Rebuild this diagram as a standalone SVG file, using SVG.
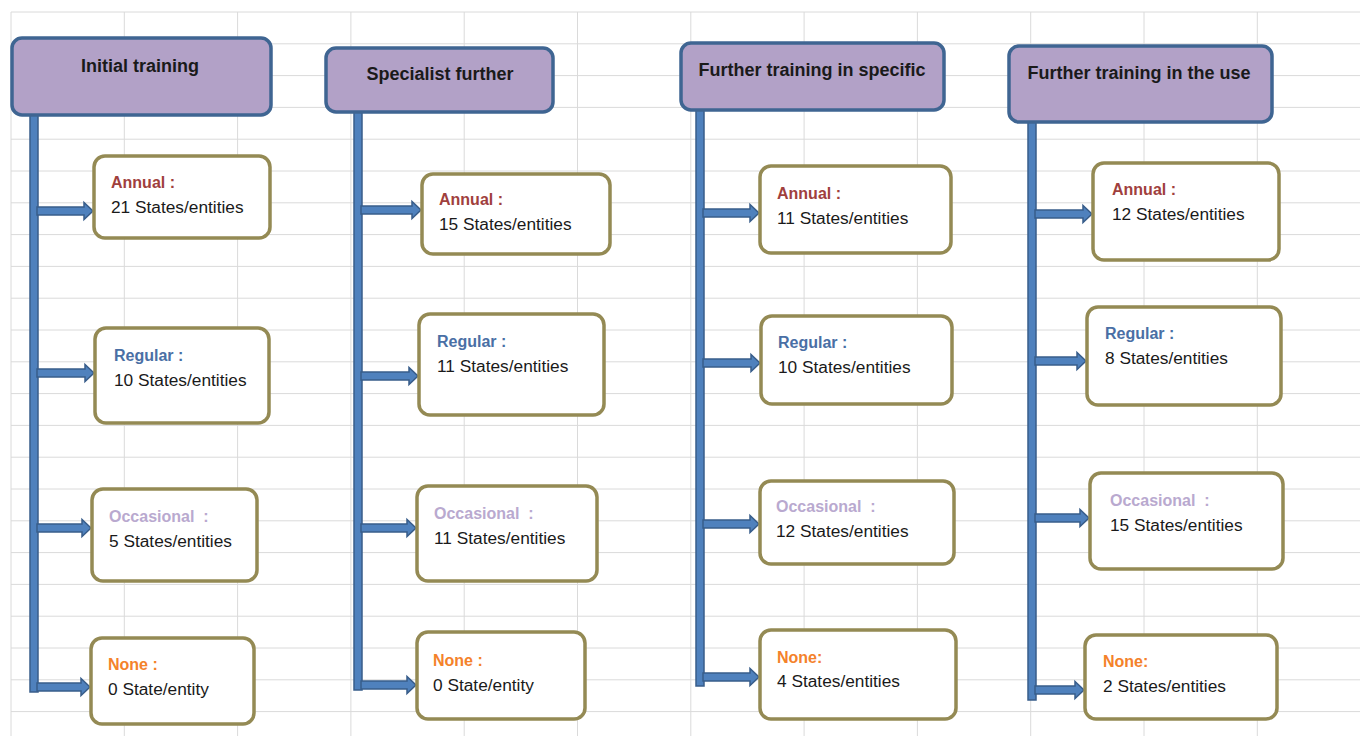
<svg xmlns="http://www.w3.org/2000/svg" width="1360" height="736" viewBox="0 0 1360 736">
<style>
.grid{stroke:#DADADA;stroke-width:1;fill:none}
.hdr{fill:#B2A1C7;stroke:#3F6592;stroke-width:3.5}
.box{fill:#FFFFFF;stroke:#948A54;stroke-width:3.5}
.bar{fill:#4F81BD;stroke:#385D8A;stroke-width:1.5}
.ht{font-family:"Liberation Sans",Arial,sans-serif;font-weight:bold;font-size:18px;fill:#1A1A1A;text-anchor:middle}
.lb{font-family:"Liberation Sans",Arial,sans-serif;font-weight:bold;font-size:16px}
.vt{font-family:"Liberation Sans",Arial,sans-serif;font-size:17.3px;fill:#1A1A1A}
.an{fill:#A0403D}.re{fill:#4A6FA5}.oc{fill:#B9A9CF}.no{fill:#F4822A}
</style>
<rect width="1360" height="736" fill="#FFFFFF"/>
<path class="grid" d="M11 12H1360M11 43.8H1360M11 75.6H1360M11 107.4H1360M11 139.2H1360M11 171H1360M11 202.8H1360M11 234.6H1360M11 266.4H1360M11 298.2H1360M11 330H1360M11 361.8H1360M11 393.6H1360M11 425.4H1360M11 457.2H1360M11 489H1360M11 520.8H1360M11 552.6H1360M11 584.4H1360M11 616.2H1360M11 648H1360M11 679.8H1360M11 711.6H1360M11 12V736M124.3 12V736M237.6 12V736M350.9 12V736M464.2 12V736M577.5 12V736M690.8 12V736M804.1 12V736M917.4 12V736M1030.7 12V736M1144 12V736M1257.3 12V736"/>
<g id="connectors">
<rect class="bar" x="30" y="112" width="8" height="580"/>
<rect class="bar" x="354" y="110" width="8" height="580"/>
<rect class="bar" x="696" y="108" width="8" height="578"/>
<rect class="bar" x="1028" y="120" width="8" height="580"/>
<path class="bar" d="M37 207H84V202.5L93 211L84 219.5V215H37Z"/>
<path class="bar" d="M37 369H85V364.5L94 373L85 381.5V377H37Z"/>
<path class="bar" d="M37 524H82V519.5L91 528L82 536.5V532H37Z"/>
<path class="bar" d="M37 683H81V678.5L90 687L81 695.5V691H37Z"/>
<path class="bar" d="M361 206H412V201.5L421 210L412 218.5V214H361Z"/>
<path class="bar" d="M361 372H409V367.5L418 376L409 384.5V380H361Z"/>
<path class="bar" d="M361 524H407V519.5L416 528L407 536.5V532H361Z"/>
<path class="bar" d="M361 681H407V676.5L416 685L407 693.5V689H361Z"/>
<path class="bar" d="M703 209H750V204.5L759 213L750 221.5V217H703Z"/>
<path class="bar" d="M703 359H751V354.5L760 363L751 371.5V367H703Z"/>
<path class="bar" d="M703 520H750V515.5L759 524L750 532.5V528H703Z"/>
<path class="bar" d="M703 673H750V668.5L759 677L750 685.5V681H703Z"/>
<path class="bar" d="M1035 210H1083V205.5L1092 214L1083 222.5V218H1035Z"/>
<path class="bar" d="M1035 357H1077V352.5L1086 361L1077 369.5V365H1035Z"/>
<path class="bar" d="M1035 514H1080V509.5L1089 518L1080 526.5V522H1035Z"/>
<path class="bar" d="M1035 686H1075V681.5L1084 690L1075 698.5V694H1035Z"/>
</g>
<g id="h1"><rect class="hdr" x="12" y="38" width="259" height="77" rx="10"/><text class="ht" x="140" y="72">Initial training</text></g>
<g id="h2"><rect class="hdr" x="326" y="48" width="227" height="64" rx="10"/><text class="ht" x="440" y="80">Specialist further</text></g>
<g id="h3"><rect class="hdr" x="681" y="43" width="263" height="67" rx="10"/><text class="ht" x="812" y="76">Further training in specific</text></g>
<g id="h4"><rect class="hdr" x="1009" y="46" width="263" height="76" rx="10"/><text class="ht" x="1139" y="79">Further training in the use</text></g>

<g id="c1-annual"><rect class="box" x="94" y="156" width="176" height="82" rx="11"/><text class="lb an" x="111" y="188">Annual :</text><text class="vt" x="111" y="213">21 States/entities</text></g>
<g id="c1-regular"><rect class="box" x="95" y="328" width="174" height="95" rx="11"/><text class="lb re" x="114" y="361">Regular :</text><text class="vt" x="114" y="386">10 States/entities</text></g>
<g id="c1-occasional"><rect class="box" x="92" y="489" width="165" height="92" rx="11"/><text class="lb oc" x="109" y="522" xml:space="preserve">Occasional  :</text><text class="vt" x="109" y="547">5 States/entities</text></g>
<g id="c1-none"><rect class="box" x="91" y="638" width="163" height="86" rx="11"/><text class="lb no" x="108" y="670">None :</text><text class="vt" x="108" y="695">0 State/entity</text></g>

<g id="c2-annual"><rect class="box" x="422" y="174" width="188" height="80" rx="11"/><text class="lb an" x="439" y="205">Annual :</text><text class="vt" x="439" y="230">15 States/entities</text></g>
<g id="c2-regular"><rect class="box" x="419" y="314" width="185" height="101" rx="11"/><text class="lb re" x="437" y="347">Regular :</text><text class="vt" x="437" y="372">11 States/entities</text></g>
<g id="c2-occasional"><rect class="box" x="417" y="486" width="180" height="95" rx="11"/><text class="lb oc" x="434" y="519" xml:space="preserve">Occasional  :</text><text class="vt" x="434" y="544">11 States/entities</text></g>
<g id="c2-none"><rect class="box" x="417" y="632" width="168" height="87" rx="11"/><text class="lb no" x="433" y="666">None :</text><text class="vt" x="433" y="691">0 State/entity</text></g>

<g id="c3-annual"><rect class="box" x="760" y="166" width="191" height="87" rx="11"/><text class="lb an" x="777" y="199">Annual :</text><text class="vt" x="777" y="224">11 States/entities</text></g>
<g id="c3-regular"><rect class="box" x="761" y="316" width="191" height="88" rx="11"/><text class="lb re" x="778" y="348">Regular :</text><text class="vt" x="778" y="373">10 States/entities</text></g>
<g id="c3-occasional"><rect class="box" x="760" y="481" width="194" height="83" rx="11"/><text class="lb oc" x="776" y="512" xml:space="preserve">Occasional  :</text><text class="vt" x="776" y="537">12 States/entities</text></g>
<g id="c3-none"><rect class="box" x="760" y="630" width="196" height="89" rx="11"/><text class="lb no" x="777" y="663">None:</text><text class="vt" x="777" y="687">4 States/entities</text></g>

<g id="c4-annual"><rect class="box" x="1093" y="163" width="186" height="97" rx="11"/><text class="lb an" x="1112" y="195">Annual :</text><text class="vt" x="1112" y="220">12 States/entities</text></g>
<g id="c4-regular"><rect class="box" x="1087" y="307" width="194" height="98" rx="11"/><text class="lb re" x="1105" y="339">Regular :</text><text class="vt" x="1105" y="364">8 States/entities</text></g>
<g id="c4-occasional"><rect class="box" x="1090" y="473" width="193" height="96" rx="11"/><text class="lb oc" x="1110" y="506" xml:space="preserve">Occasional  :</text><text class="vt" x="1110" y="531">15 States/entities</text></g>
<g id="c4-none"><rect class="box" x="1085" y="635" width="192" height="84" rx="11"/><text class="lb no" x="1103" y="667">None:</text><text class="vt" x="1103" y="692">2 States/entities</text></g>
</svg>
